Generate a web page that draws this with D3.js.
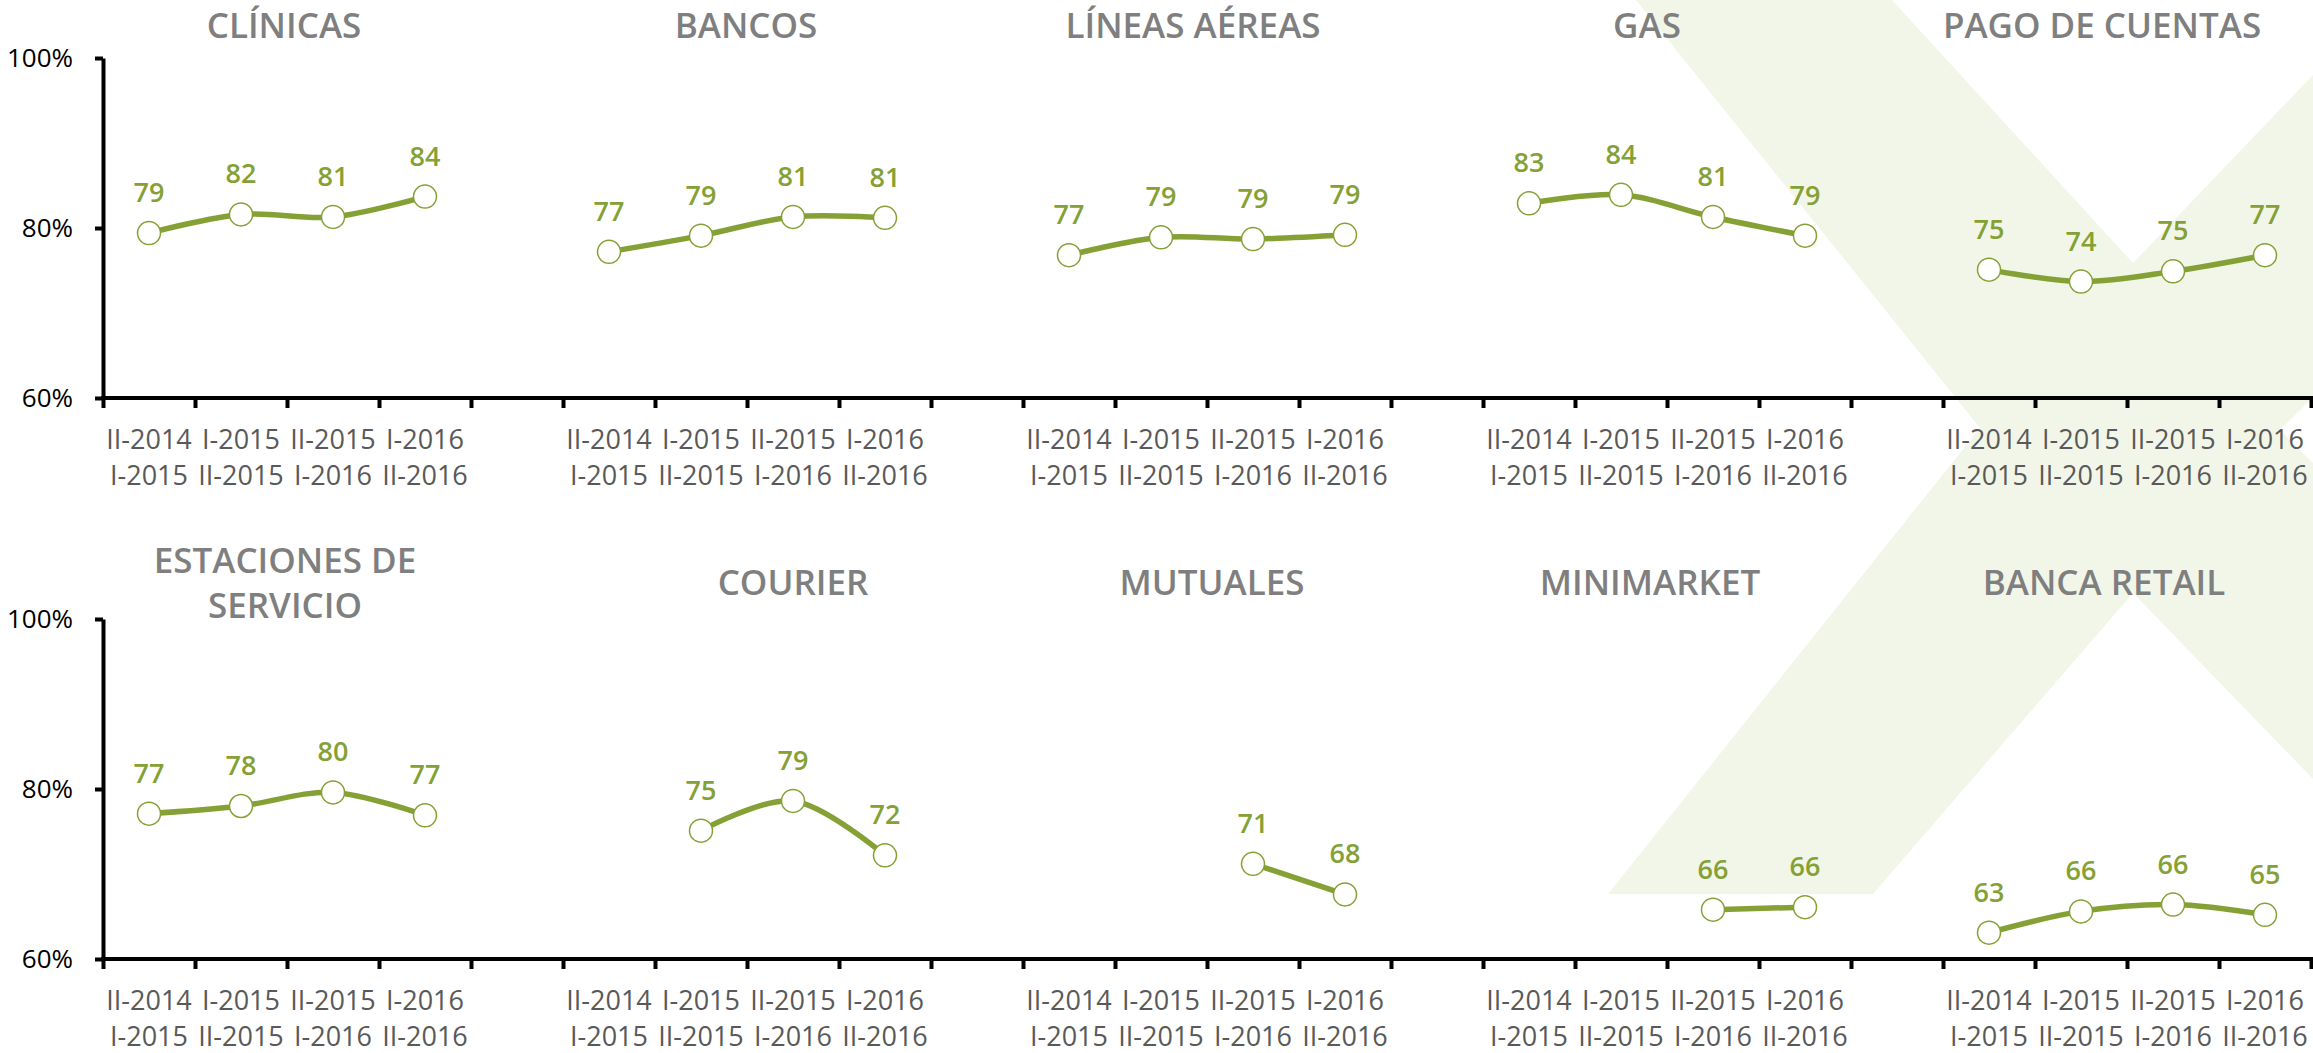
<!DOCTYPE html>
<html>
<head>
  <meta charset="utf-8">
  <title>Satisfacción por sector</title>
</head>
<style>
  body {
    margin: 0;
    background: #fff;
  }
  text {
    font-family: "Open Sans", sans-serif;
  }
  .title {
    fill: #7f7f7f;
    font-size: 35px;
    font-weight: 600;
  }
  .cat {
    fill: #595959;
    font-size: 27px;
  }
  .val {
    fill: #85a135;
    font-size: 27px;
    font-weight: 600;
  }
</style>
<body>
  <script src="https://d3js.org/d3.v7.min.js"></script>
  <script>
    // periodos (cada categoría es una etiqueta de dos líneas)
    const catLine1 = ["II-2014", "I-2015", "II-2015", "I-2016"];
    const catLine2 = ["I-2015", "II-2015", "I-2016", "II-2016"];
    const yTicks = [60, 80, 100];

    // fila superior
    const topTitles = [["CLÍNICAS"], ["BANCOS"], ["LÍNEAS AÉREAS"], ["GAS"], ["PAGO DE CUENTAS"]];
    const clinicas = [79.4, 81.6, 81.3, 83.7];
    const bancos = [77.2, 79.1, 81.3, 81.2];
    const lineasAereas = [76.8, 78.9, 78.7, 79.2];
    const gas = [82.9, 83.9, 81.3, 79.1];
    const pagoCuentas = [75.1, 73.7, 74.9, 76.8];

    // fila inferior
    const bottomTitles = [["ESTACIONES DE", "SERVICIO"], ["COURIER"], ["MUTUALES"], ["MINIMARKET"], ["BANCA RETAIL"]];
    const estaciones = [77.1, 78.0, 79.6, 76.9];
    const courier = [null, 75.1, 78.6, 72.2];
    const mutuales = [null, null, 71.2, 67.6];
    const minimarket = [null, null, 65.8, 66.1];
    const bancaRetail = [63.1, 65.6, 66.4, 65.2];

    const topSeries = [clinicas, bancos, lineasAereas, gas, pagoCuentas];
    const bottomSeries = [estaciones, courier, mutuales, minimarket, bancaRetail];

    // los títulos son cuadros de texto, no quedan justo centrados
    const topTitleShift = [-3, -1, -14, -20, -25];
    const bottomTitleShift = [-2, 46, 5, -17, -23];

    const w = 2313;
    const h = 1053;
    const green = "#85a135";

    const svg = d3.select("body")
                  .append("svg")
                  .attr("width", w)
                  .attr("height", h)

    // marca de agua (X verde claro)
    const xMark = [[1636, 0], [1892, 0], [2133, 263], [2313, 75], [2313, 397], [2280, 430],
                   [2313, 463], [2313, 779], [2133, 593], [1873, 894], [1608, 894], [1980, 428]];
    svg.append("path")
       .attr("d", d3.line()(xMark) + "Z")
       .attr("fill", "#f2f6e8")

    // 5 paneles x (4 categorías + 1 hueco), sin hueco al final
    const slot = d3.scaleLinear().domain([0, 24]).range([103, 2311]);
    const cx = (p, c) => slot(p * 5 + c + 0.5);

    function drawRow(series, titles, shifts, yBottom, yTop, titleY) {
      const y = d3.scaleLinear().domain([60, 100]).range([yBottom, yTop]);
      const g = svg.append("g");

      // eje y
      g.append("g")
       .attr("transform", "translate(103,0)")
       .call(d3.axisLeft(y).tickValues(yTicks).tickFormat(d => d + "%")
              .tickSize(8).tickSizeOuter(0).tickPadding(22))
       .call(a => a.selectAll("path,line").attr("stroke", "#000").attr("stroke-width", 4))
       .call(a => a.selectAll("text").attr("fill", "#000").style("font-size", "26px")
                   .style("font-family", "'Open Sans', sans-serif"))

      // eje x
      g.append("g")
       .attr("transform", "translate(0," + yBottom + ")")
       .call(d3.axisBottom(slot).tickValues(d3.range(25)).tickFormat("")
              .tickSize(10).tickSizeOuter(0))
       .call(a => a.select(".domain").attr("d", "M101,0H2313"))
       .call(a => a.selectAll("path,line").attr("stroke", "#000").attr("stroke-width", 4))

      series.forEach((vals, p) => {
        // etiquetas de categoría
        const cats = g.append("g").selectAll("text")
          .data(catLine1)
          .join("text")
            .attr("class", "cat")
            .attr("text-anchor", "middle")
            .attr("x", (d, i) => cx(p, i))
            .attr("y", yBottom + 51)
        cats.append("tspan").text(d => d)
        cats.append("tspan")
            .attr("x", (d, i) => cx(p, i))
            .attr("dy", 36)
            .text((d, i) => catLine2[i])

        // título
        const lines = titles[p];
        g.append("text")
         .attr("class", "title")
         .attr("text-anchor", "middle")
         .attr("x", cx(p, 1.5) + shifts[p])
         .attr("y", titleY - (lines.length - 1) * 22.5)
         .selectAll("tspan")
         .data(lines)
         .join("tspan")
           .attr("x", cx(p, 1.5) + shifts[p])
           .attr("dy", (d, i) => i ? 45 : 0)
           .text(d => d)

        const pts = vals.map((v, i) => ({ i: i, v: v })).filter(d => d.v != null);

        g.append("path")
         .datum(pts)
         .attr("fill", "none")
         .attr("stroke", green)
         .attr("stroke-width", 5.5)
         .attr("stroke-linecap", "round")
         .attr("d", d3.line()
           .curve(d3.curveCatmullRom.alpha(0.5))
           .x(d => cx(p, d.i))
           .y(d => y(d.v)))

        g.append("g").selectAll("circle")
         .data(pts)
         .join("circle")
           .attr("cx", d => cx(p, d.i))
           .attr("cy", d => y(d.v))
           .attr("r", 11.5)
           .attr("fill", "#fff")
           .attr("stroke", green)
           .attr("stroke-width", 1.5)

        g.append("g").selectAll("text")
         .data(pts)
         .join("text")
           .attr("class", "val")
           .attr("text-anchor", "middle")
           .attr("x", d => cx(p, d.i))
           .attr("y", d => y(d.v) - 31)
           .text(d => Math.round(d.v))
      });
    }

    drawRow(topSeries, topTitles, topTitleShift, 398, 58, 38);
    drawRow(bottomSeries, bottomTitles, bottomTitleShift, 959, 619, 595);
  </script>
</body>
</html>
